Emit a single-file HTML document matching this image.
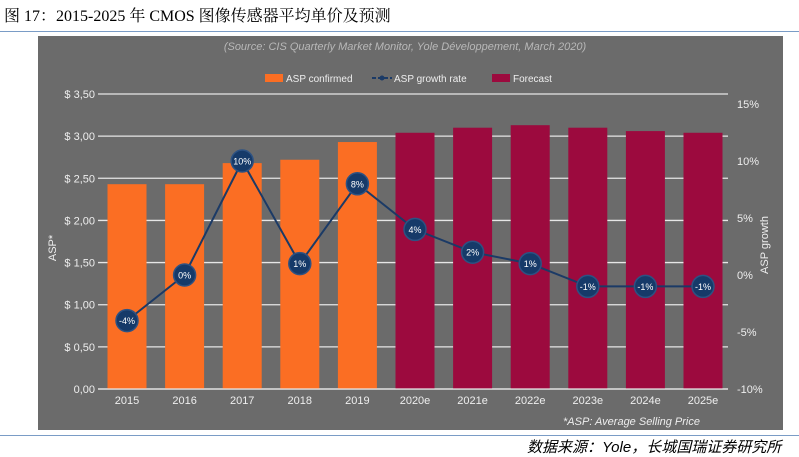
<!DOCTYPE html>
<html><head><meta charset="utf-8"><style>
body{margin:0;width:799px;height:450px;background:#fff;overflow:hidden;font-family:"Liberation Sans","Noto Sans CJK SC",sans-serif;}
#title{position:absolute;left:4px;top:3px;font-size:16px;color:#000;font-family:"Liberation Serif","Noto Serif CJK SC",serif;}
.hr{position:absolute;left:0;width:799px;height:1px;background:#7a9cc6;}
#src{position:absolute;left:527px;top:436px;font-size:15px;font-style:italic;color:#000;white-space:nowrap;}
svg{position:absolute;left:0;top:0;}
</style></head><body>
<div id="title">图 17：2015-2025 年 CMOS 图像传感器平均单价及预测</div>
<div class="hr" style="top:31px"></div>
<div class="hr" style="top:435px"></div>
<div id="src">数据来源：Yole，长城国瑞证券研究所</div>
<svg id="c" width="799" height="450"></svg>
<script>
const categories=["2015","2016","2017","2018","2019","2020e","2021e","2022e","2023e","2024e","2025e"];
const aspValues=[2.43,2.43,2.68,2.72,2.93,3.04,3.10,3.13,3.10,3.06,3.04];
const growthValues=[-4,0,10,1,8,4,2,1,-1,-1,-1];
const growthLabels=["-4%","0%","10%","1%","8%","4%","2%","1%","-1%","-1%","-1%"];
const forecastFlags=[0,0,0,0,0,1,1,1,1,1,1];
const leftTicks=[0,0.5,1,1.5,2,2.5,3,3.5];
const leftTickLabels=["0,00","$ 0,50","$ 1,00","$ 1,50","$ 2,00","$ 2,50","$ 3,00","$ 3,50"];
const rightTicks=[-10,-5,0,5,10,15];
const rightTickLabels=["-10%","-5%","0%","5%","10%","15%"];
const NS="http://www.w3.org/2000/svg";
const svg=document.getElementById('c');
function el(t,a,p){const e=document.createElementNS(NS,t);for(const k in a)e.setAttribute(k,a[k]);(p||svg).appendChild(e);return e;}
const yL=v=>389-v*(295/3.5);
const yR=v=>275-v*(285/25);
const xC=i=>127+i*57.6;
let bg=el('rect',{x:38,y:36,width:745,height:394,fill:'#6b6b6b'});

let s=el('text',{x:405,y:50,'text-anchor':'middle','font-size':11,'font-style':'italic',fill:'#b8b8b8'});
s.textContent='(Source: CIS Quarterly Market Monitor, Yole Développement, March 2020)';

leftTicks.forEach((v,i)=>{
  let g=el('line',{x1:98,x2:728,y1:yL(v),y2:yL(v),stroke:'#e6e6e6','stroke-width':1.3});
  
  let t=el('text',{x:95,y:yL(v)+4,'text-anchor':'end','font-size':11,fill:'#eee'});t.textContent=leftTickLabels[i];
  
});
rightTicks.forEach((v,i)=>{
  let t=el('text',{x:737,y:yR(v)+4,'font-size':11,fill:'#eee'});t.textContent=rightTickLabels[i];
  
});
categories.forEach((c,i)=>{
  let b=el('rect',{x:xC(i)-19.5,y:yL(aspValues[i]),width:39,height:389-yL(aspValues[i]),fill:forecastFlags[i]?'#9c0a3e':'#fb6e23'});
  
  let t=el('text',{x:xC(i),y:404,'text-anchor':'middle','font-size':11,fill:'#eee'});t.textContent=c;
  
});
let ax=el('line',{x1:98,x2:728,y1:389,y2:389,stroke:'#e6e6e6','stroke-width':1.3});

let pl=el('polyline',{points:growthValues.map((v,i)=>xC(i)+','+yR(v)).join(' '),fill:'none',stroke:'#1b3a66','stroke-width':2});

growthValues.forEach((v,i)=>{
  let c=el('circle',{cx:xC(i),cy:yR(v),r:11,fill:'#163a69',stroke:'#2d5283','stroke-width':1.5});
  
  let t=el('text',{x:xC(i),y:yR(v)+3.5,'text-anchor':'middle','font-size':9,fill:'#fff'});t.textContent=growthLabels[i];
  
});
let yl=el('text',{transform:'translate(56,248) rotate(-90)','text-anchor':'middle','font-size':11,fill:'#eee'});yl.textContent='ASP*';

let yr=el('text',{transform:'translate(768,245) rotate(-90)','text-anchor':'middle','font-size':11,fill:'#eee'});yr.textContent='ASP growth';

let fn=el('text',{x:700,y:425,'text-anchor':'end','font-size':11,'font-style':'italic',fill:'#eee'});fn.textContent='*ASP: Average Selling Price';

// legend
let l1=el('rect',{x:265,y:74,width:18,height:8,fill:'#fb6e23'});
let t1=el('text',{x:286,y:82,'font-size':10,fill:'#eee'});t1.textContent='ASP  confirmed';
let l2=el('line',{x1:372,x2:392,y1:78,y2:78,stroke:'#1b3a66','stroke-width':2,'stroke-dasharray':'4,2'});
let l2c=el('circle',{cx:382,cy:78,r:2.5,fill:'#1b3a66'});
let t2=el('text',{x:394,y:82,'font-size':10,fill:'#eee'});t2.textContent='ASP growth rate';
let l3=el('rect',{x:492,y:74,width:18,height:8,fill:'#9c0a3e'});
let t3=el('text',{x:513,y:82,'font-size':10,fill:'#eee'});t3.textContent='Forecast';
</script>
</body></html>
